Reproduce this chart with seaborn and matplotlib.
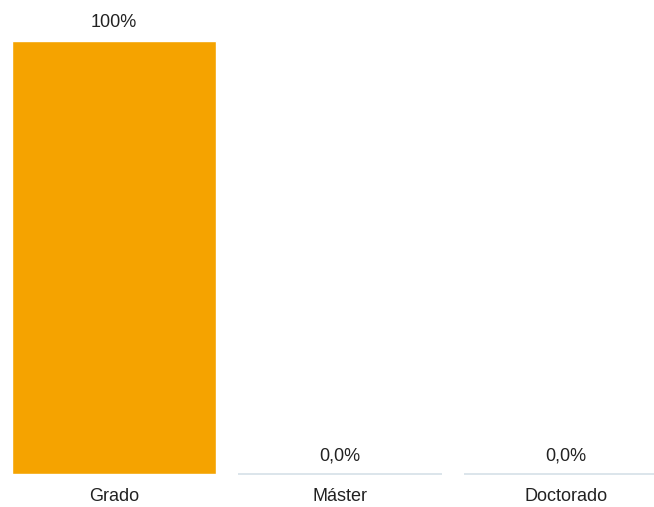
import matplotlib
matplotlib.use("Agg")
import matplotlib.pyplot as plt
import seaborn as sns
import pandas as pd
import numpy as np

categories = ["Grado", "Máster", "Doctorado"]
values = [100.0, 0.0, 0.0]
labels = ["100%", "0,0%", "0,0%"]

sns.set_style("white")
plt.rcParams['font.family'] = ['Liberation Sans', 'DejaVu Sans']

df = pd.DataFrame({"cat": categories, "val": values})

fig = plt.figure(figsize=(6.54, 5.07), dpi=100)
ax = fig.add_axes([0, 1 - 474/507, 1, (474 - 41)/507])

sns.barplot(data=df, x="cat", y="val", color="#F5A300", width=0.9,
            saturation=1, ax=ax, order=categories)

ax.set_xlim(-114/226, (654 - 114)/226)
ax.set_ylim(0, 100)

# baseline lines under each category
for i, v in enumerate(values):
    if v == 0:
        ax.hlines(0, i - 0.45, i + 0.45, color="#D5E0E8", lw=1.2, clip_on=False, zorder=3)

for i, (v, lab) in enumerate(zip(values, labels)):
    ax.annotate(lab, (i, v), xytext=(0, 7), textcoords="offset points",
                ha="center", va="bottom", fontsize=13, color="#222222",
                annotation_clip=False)

ax.set_xlabel("")
ax.set_ylabel("")
ax.set_yticks([])
ax.tick_params(axis="x", length=0, pad=10, labelsize=13, labelcolor="#222222")
for s in ax.spines.values():
    s.set_visible(False)

fig.savefig("out.png", dpi=100)
